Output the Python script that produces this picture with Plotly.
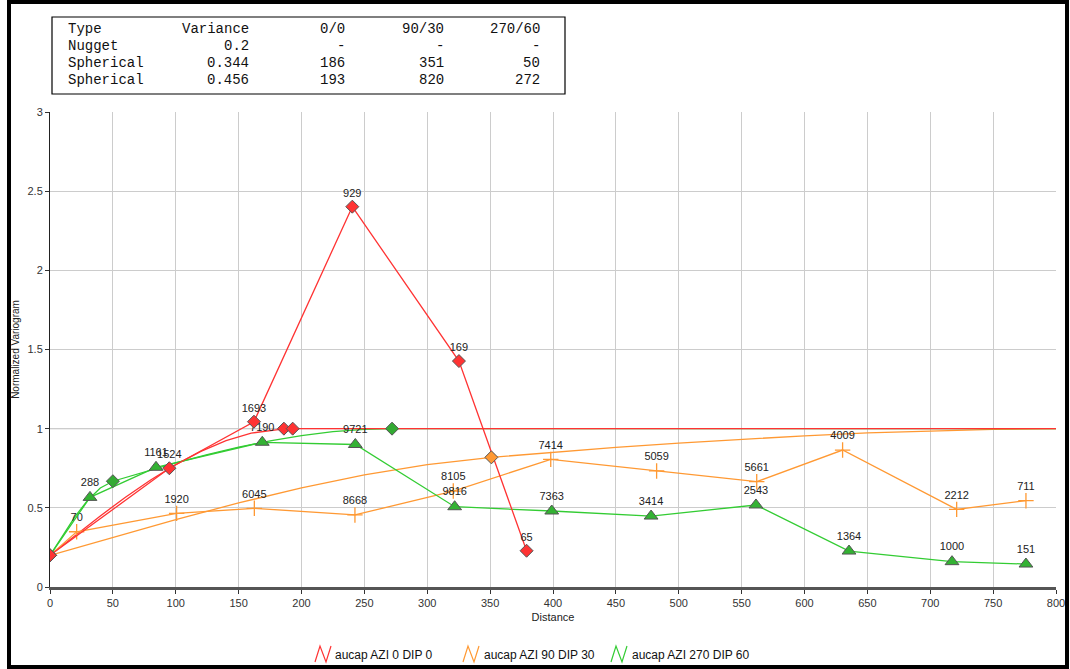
import plotly.graph_objects as go

# ---------------- data ----------------
# experimental variogram points (distance, normalized variogram, pair-count label)
red_x = [0, 94.9, 162.2, 240.4, 325.2, 379.0]
red_y = [0.2, 0.75, 1.044, 2.402, 1.427, 0.229]
red_lbl = ["", "1524", "1693", "929", "169", "65"]

orange_x = [0, 21.2, 100.7, 162.5, 242.5, 320.7, 398.2, 482.4, 562.0, 630.3, 721.0, 776.1]
orange_y = [0.2, 0.349, 0.465, 0.497, 0.455, 0.606, 0.806, 0.733, 0.665, 0.865, 0.49, 0.545]
orange_lbl = ["", "70", "1920", "6045", "8668", "8105", "7414", "5059", "5661", "4009", "2212", "711"]

green_x = [0, 31.8, 84.3, 168.8, 242.8, 321.8, 399.0, 478.0, 561.4, 635.4, 717.3, 776.1]
green_y = [0.2, 0.566, 0.756, 0.914, 0.90, 0.507, 0.48, 0.448, 0.518, 0.227, 0.16, 0.145]
green_lbl = ["", "288", "1161", "7190", "9721", "9816", "7363", "3414", "2543", "1364", "1000", "151"]

# model curves
red_model_x = [0, 20, 40, 60, 80, 100, 120, 140, 160, 186, 193, 800]
red_model_y = [0.2, 0.326, 0.449, 0.567, 0.676, 0.773, 0.857, 0.924, 0.972, 0.999, 1.0, 1.0]

orange_model_x = [0, 50, 100, 150, 200, 250, 300, 351, 400, 450, 500, 550, 600, 650, 700, 750, 800]
orange_model_y = [0.2, 0.315, 0.426, 0.531, 0.626, 0.708, 0.773, 0.819, 0.851, 0.882, 0.909,
                  0.934, 0.955, 0.973, 0.986, 0.995, 1.0]

green_model_x = [0, 10, 20, 30, 40, 50, 75, 100, 125, 150, 175, 200, 225, 250, 272, 800]
green_model_y = [0.2, 0.327, 0.446, 0.548, 0.625, 0.668, 0.728, 0.784, 0.836, 0.883, 0.923,
                 0.956, 0.981, 0.996, 1.0, 1.0]

# model knots (nugget and structure ranges)
red_knot_x = [0, 186, 193]
red_knot_y = [0.2, 1.0, 1.0]
orange_knot_x = [0, 351]
orange_knot_y = [0.2, 0.819]
green_knot_x = [0, 50, 272]
green_knot_y = [0.2, 0.668, 1.0]

x_ticks = list(range(0, 801, 50))
y_ticks = [0, 0.5, 1, 1.5, 2, 2.5, 3]

legend_names = ["aucap AZI 0 DIP 0", "aucap AZI 90 DIP 30", "aucap AZI 270 DIP 60"]

table_rows = [
    ["Type", "Variance", "0/0", "90/30", "270/60"],
    ["Nugget", "0.2", "-", "-", "-"],
    ["Spherical", "0.344", "186", "351", "50"],
    ["Spherical", "0.456", "193", "820", "272"],
]

# ---------------- styling ----------------
RED = "#ff3333"
ORANGE = "#ff9933"
GREEN = "#33cc33"
GREEN_FILL = "#33b233"
OUTLINE = "#555555"
W, H = 1070, 669
PL, PR, PT, PB = 50, 1056, 112, 587  # plot area in pixels
LBL_FONT = dict(family="Liberation Sans", size=11, color="#222")


def px_x(p):
    return (p - PL) / (PR - PL)


def px_y(p):
    return (PB - p) / (PB - PT)


fig = go.Figure()

# model curves
for mx, my, c in [(orange_model_x, orange_model_y, ORANGE),
                  (green_model_x, green_model_y, GREEN),
                  (red_model_x, red_model_y, RED)]:
    fig.add_trace(go.Scatter(x=mx, y=my, mode="lines", line=dict(color=c, width=1.3),
                             showlegend=False, hoverinfo="skip"))

# experimental curves
fig.add_trace(go.Scatter(
    x=orange_x, y=orange_y, mode="lines+markers+text", text=orange_lbl,
    textposition="top center", textfont=LBL_FONT, opacity=1,
    line=dict(color=ORANGE, width=1.3),
    marker=dict(symbol="cross-thin", size=[0] + [11] * (len(orange_x) - 1), opacity=1,
                line=dict(color=ORANGE, width=1.3), color=ORANGE),
    showlegend=False))

fig.add_trace(go.Scatter(
    x=green_x, y=green_y, mode="lines+markers+text", text=green_lbl,
    textposition="top center", textfont=LBL_FONT, opacity=1,
    line=dict(color=GREEN, width=1.3),
    marker=dict(symbol="triangle-up", size=[0] + [12] * (len(green_x) - 1), opacity=1,
                color=GREEN_FILL, line=dict(color=OUTLINE, width=1)),
    showlegend=False))

fig.add_trace(go.Scatter(
    x=red_x, y=red_y, mode="lines+markers+text", text=red_lbl,
    textposition="top center", textfont=LBL_FONT, opacity=1,
    line=dict(color=RED, width=1.3),
    marker=dict(symbol="diamond", size=[0] + [10] * (len(red_x) - 1), opacity=1,
                color=RED, line=dict(color=OUTLINE, width=1)),
    showlegend=False))

# model knots
for kx, ky, c in [(orange_knot_x, orange_knot_y, ORANGE),
                  (green_knot_x, green_knot_y, "#33aa33"),
                  (red_knot_x, red_knot_y, RED)]:
    fig.add_trace(go.Scatter(x=kx, y=ky, mode="markers",
                             marker=dict(symbol="diamond", size=10, color=c, opacity=1,
                                         line=dict(color=OUTLINE, width=1)),
                             showlegend=False, hoverinfo="skip"))

shapes = []
annotations = []

# outer frame
shapes.append(dict(type="rect", xref="paper", yref="paper",
                   x0=px_x(9), x1=px_x(1067), y0=px_y(667), y1=px_y(2),
                   line=dict(color="black", width=4), layer="above"))

# table box
shapes.append(dict(type="rect", xref="paper", yref="paper",
                   x0=px_x(52), x1=px_x(565), y0=px_y(94), y1=px_y(17),
                   line=dict(color="black", width=1.2)))
col_right = [None, 251, 347, 446, 542]
row_y = [29, 46, 63, 80]
for r, row in enumerate(table_rows):
    for c, cell in enumerate(row):
        if c == 0:
            annotations.append(dict(x=px_x(66), y=px_y(row_y[r]), xref="paper", yref="paper",
                                    text=cell, showarrow=False, xanchor="left", yanchor="middle",
                                    font=dict(family="Liberation Mono", size=14, color="#111")))
        else:
            annotations.append(dict(x=px_x(col_right[c]), y=px_y(row_y[r]), xref="paper", yref="paper",
                                    text=cell, showarrow=False, xanchor="right", yanchor="middle",
                                    font=dict(family="Liberation Mono", size=14, color="#111")))

# custom legend: zigzag icons + names
leg_icon_x = [315, 463, 611]
leg_text_x = [333, 482, 630]
leg_colors = [RED, ORANGE, GREEN]
for ix, tx, c, name in zip(leg_icon_x, leg_text_x, leg_colors, legend_names):
    pts = [(ix, 662), (ix + 5, 646), (ix + 11, 662), (ix + 16, 646)]
    path = "M " + " L ".join(f"{px_x(a)},{px_y(b)}" for a, b in pts)
    shapes.append(dict(type="path", xref="paper", yref="paper", path=path,
                       line=dict(color=c, width=1.2)))
    annotations.append(dict(x=px_x(tx), y=px_y(655), xref="paper", yref="paper",
                            text=name, showarrow=False, xanchor="left", yanchor="middle",
                            font=dict(family="Liberation Sans", size=12, color="#111")))

# sill reference line
shapes.append(dict(type="line", xref="x", yref="y", x0=0, x1=800, y0=1, y1=1,
                   line=dict(color="#999999", width=1), layer="below"))

fig.update_layout(
    width=W, height=H,
    margin=dict(l=PL, r=W - PR, t=PT, b=H - PB, pad=0, autoexpand=False),
    paper_bgcolor="white", plot_bgcolor="white",
    shapes=shapes, annotations=annotations,
    font=dict(family="Liberation Sans", size=11, color="#333"),
    xaxis=dict(range=[0, 800], tickvals=x_ticks, ticktext=[str(v) for v in x_ticks],
               automargin=False,
               showgrid=True, gridcolor="#cccccc", gridwidth=1, zeroline=False,
               showline=True, linecolor="#555555", linewidth=3, ticks="outside",
               ticklen=4, tickcolor="#333", tickfont=dict(size=11, color="#333"),
               title=dict(text="Distance", font=dict(size=11, color="#222"), standoff=6)),
    yaxis=dict(range=[0, 3], tickvals=y_ticks, ticktext=["0", "0.5", "1", "1.5", "2", "2.5", "3"],
               automargin=False,
               showgrid=True, gridcolor="#cccccc", gridwidth=1, zeroline=False,
               showline=True, linecolor="#222", linewidth=1, ticks="outside",
               ticklen=4, tickcolor="#333", tickfont=dict(size=11, color="#333"),
               title=dict(text="Normalized Variogram", font=dict(size=10, color="#222"), standoff=6)),
    showlegend=False,
)

fig.write_html("out.html", config={"displayModeBar": False},
               post_script="document.body.style.margin='0';document.body.style.overflow='hidden';")
